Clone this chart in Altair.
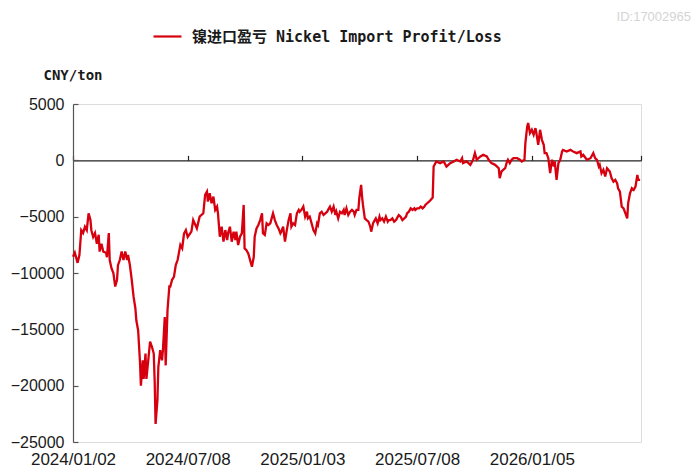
import altair as alt
import pandas as pd

# ---- data (trading-day index since 2024/01/02, CNY/ton) ----
day_index = [
    0, 2, 5, 7, 9, 11, 13, 15, 17, 19, 20, 22, 24, 26, 28, 29, 31, 33, 36, 37, 39, 40, 42, 44, 46, 48, 49,
    51, 53, 55, 57, 59, 60, 62, 64, 66, 68, 69, 71, 73, 74, 76, 77, 79, 80, 82, 84, 86, 88, 89, 90, 92, 93,
    95, 97, 98, 100, 101, 103, 105, 106, 108, 110, 112, 114, 116, 117, 119, 121, 123, 125,
    129, 131, 135, 138, 142, 144, 146, 147, 149, 151, 153, 155, 157, 158, 160, 162, 164, 166, 168, 169,
    171, 173, 175, 177, 178, 180, 182, 184, 186, 187, 189, 191, 193, 195, 197, 198, 200, 202, 204, 206,
    207, 209, 211, 213, 215, 217, 218, 220, 222, 224, 226, 227, 229, 231, 233, 235, 237, 238, 240, 242,
    244, 246, 247, 249,
    251, 253, 255, 256, 258, 260, 262, 264, 266, 267, 269, 271, 273, 275, 277, 278, 280, 282, 284, 286,
    287, 289, 291, 293, 295, 296, 298, 300, 302, 304, 306, 307, 309, 311, 312, 314, 315, 316, 318, 320,
    322, 324, 325, 327, 328, 330, 332, 334, 335, 337, 339, 341, 343, 344, 346, 348, 350, 352, 353, 355,
    357, 359, 361, 363, 364, 366, 368, 370, 372, 373, 375, 377, 379, 381, 383, 384, 386, 388, 390, 392,
    393, 395, 396, 400, 404, 407, 411, 415, 418, 422, 424, 425, 429, 433, 436, 438, 440, 444, 447, 451,
    453, 456, 460, 464, 465, 467, 471, 473, 474, 476, 478, 480, 484, 487, 489, 492, 493, 495, 496, 498,
    500, 502, 504, 505, 507, 509, 511, 513, 514, 516, 518, 520, 522, 524, 525, 527, 529, 531, 533, 534,
    538, 542, 545, 549, 553, 554, 556, 560, 564, 567, 569, 571, 573, 574, 576, 578, 580, 582, 585, 587,
    589, 591, 593, 594, 596, 598, 600, 602, 604, 605, 607, 609, 611, 613, 615, 616, 618,
]
profit = [
    -8560, -8200, -9100, -8400, -6200, -6450, -5900, -6200, -4700, -5300, -6200, -6800, -6450, -7400, -6600,
    -8100, -7400, -8100, -8200, -8600, -6450, -8850, -9600, -10000, -11200, -10600, -9300,
    -8850, -8100, -8850, -8100, -8850, -8400, -9300, -10600, -12100, -13150, -14200, -15100, -17900, -20000,
    -17750, -19400, -17150, -19400, -17750, -16100, -16550, -17150, -19550, -23400, -21300, -18350,
    -16850, -17750, -16850, -13900, -18200, -13300, -11200, -11200, -10600, -10350, -9300, -8850, -7950,
    -7500, -7800, -6500, -6200, -6800,
    -6330, -5300, -6040, -5000, -4700, -3070, -2770, -3660, -2920, -3810, -3220, -4400, -4110, -4700,
    -6780, -5890, -7220, -6190, -7070, -6480,
    -5890, -7220, -6330, -7070, -6330, -7520, -6780, -6480, -3960, -7820, -7970, -8260, -8860, -9450,
    -8560, -6780, -6040, -5740, -5300, -4700,
    -6480, -6630, -5590, -5740, -5590, -5000, -4700, -5300, -5740, -6040, -6480, -6330, -5890, -7220,
    -6190, -5300, -4700, -5890, -5590, -5740,
    -4700, -4400, -4560, -4400,
    -4110, -5000, -4560, -5150, -5000, -5590, -6190, -6480, -5590, -5740, -4700, -4560, -4850, -4700,
    -4560, -4400, -4110, -4560, -4110, -4850,
    -4560, -5150, -4560, -4700, -4400, -4850, -4260, -4850, -4560, -4400, -4560, -4850, -4400, -4400,
    -3360, -2180, -3220, -3960, -5150, -5300,
    -5440, -5890, -6330, -5590, -5440, -5150, -5590, -5000, -5300, -5150, -5440, -5000, -5440, -5300,
    -5300, -5150, -5440, -5300, -5150, -4850,
    -5000, -5300, -5150, -5000, -4700, -4560, -4260, -4400, -4260, -4400, -4260, -4260, -4110, -4260,
    -4110, -3960, -3810, -3660, -3500, -3300,
    -550, -250, -100, -250, -100, -550, -250, -100, 50, -100, 190, -250, -100, -400, 50, 640, 50, 340,
    490, 340,
    50, -250, -400, -700, -1590, -990, -700, -100, 50, -250, 50, 190, 190, 50, -100, 50, 1530, 3010,
    3310, 2420,
    2710, 2270, 2860, 2420, 1380, 2710, 1820, 1380, 640, 640, 190, -1140, 50, -550, -100, -1740, -250,
    50, 790, 930,
    790, 930, 790, 640, 790, 340, 490, 50, 190, 640, 190, 50, -550, -400, -1140, -840, -1440, -700,
    -990, -1590,
    -1890, -1740, -2040, -2480, -2780, -4110, -4260, -4700, -5150, -3810, -2920, -2480, -2630, -2330,
    -1290, -1740, -1740,
]
tick_days = [0, 125, 250, 375, 500]
tick_labels = ["2024/01/02", "2024/07/08", "2025/01/03", "2025/07/08", "2026/01/05"]
end_day = 619
y_ticks = [-25000, -20000, -15000, -10000, -5000, 0, 5000]
series_name = "镍进口盈亏 Nickel Import Profit/Loss"
unit_label = "CNY/ton"
watermark = ["ID:17002965"]

df = pd.DataFrame({"day": day_index, "profit": profit, "series": series_name})

W, H = 568, 338
MONO = "'DejaVu Sans Mono', 'Noto Sans CJK SC'"
SANS = "Liberation Sans"
RED = "#d7000f"

label_expr = "".join(
    f"datum.value == {d} ? '{l}' : " for d, l in zip(tick_days, tick_labels)
) + "''"

xscale = alt.Scale(domain=[0, end_day], nice=False, zero=False)
yscale = alt.Scale(domain=[y_ticks[0], y_ticks[-1]], nice=False, zero=False)

line = alt.Chart(df).mark_line(strokeWidth=2.3, interpolate="linear").encode(
    x=alt.X(
        "day:Q", scale=xscale,
        axis=alt.Axis(
            orient="bottom", values=tick_days, labelExpr=label_expr, domain=False,
            ticks=False, grid=False, labelPadding=9, labelFontSize=17, labelFont=SANS,
            labelColor="#1a1a1a", title=None, labelFlush=False, labelOverlap=False,
        ),
    ),
    y=alt.Y(
        "profit:Q", scale=yscale,
        axis=alt.Axis(
            orient="left", values=y_ticks, format="d", domain=False, ticks=False, grid=False,
            labelFontSize=16, labelFont=SANS, labelPadding=9, labelColor="#1a1a1a",
            title=unit_label, titleAngle=0, titleAlign="left", titleBaseline="middle",
            titleX=-30, titleY=-29, titleFont=MONO, titleFontSize=14,
            titleFontWeight="bold", titleColor="#1a1a1a",
        ),
    ),
    color=alt.Color(
        "series:N", scale=alt.Scale(range=[RED]),
        legend=alt.Legend(
            orient="none", legendX=79, legendY=-83, title=None, symbolType="stroke",
            symbolSize=784, symbolStrokeWidth=2.2, labelFont=MONO, labelFontSize=15,
            labelFontWeight="bold", labelColor="#1a1a1a", labelOffset=9, padding=0,
            labelLimit=0,
        ),
    ),
)

frame = alt.Chart(df).mark_line(opacity=0).encode(
    x=alt.X(
        "day:Q", scale=xscale,
        axis=alt.Axis(
            orient="top", offset=-H * (y_ticks[-1] / (y_ticks[-1] - y_ticks[0])),
            values=tick_days + [end_day], labels=False, ticks=True, tickSize=5,
            domain=True, domainColor="#222222", tickColor="#222222", domainWidth=1.2,
            tickWidth=1.2, grid=False, title=None,
        ),
    ),
    y=alt.Y(
        "profit:Q", scale=yscale,
        axis=alt.Axis(
            orient="right", offset=-W, values=y_ticks, labels=False, ticks=True,
            tickSize=5, domainColor="#555555", tickColor="#555555", domainWidth=1.2,
            tickWidth=1.2, grid=False, title=None,
        ),
    ),
)

wm = alt.Chart(pd.DataFrame({"t": watermark})).mark_text(
    align="right", baseline="middle", font=SANS, fontSize=13, color="#d4d4d4"
).encode(text="t:N", x=alt.value(618), y=alt.value(-87))

chart = (
    alt.layer(frame, line, wm)
    .resolve_axis(x="independent", y="independent")
    .properties(
        width=W, height=H,
        autosize=alt.AutoSizeParams(type="none"),
        padding={"left": 65, "top": 96, "right": 51, "bottom": 28},
    )
    .configure_view(strokeWidth=0)
    .configure(background="white")
)

chart.save("out.html", embed_options={"renderer": "svg", "actions": False})
